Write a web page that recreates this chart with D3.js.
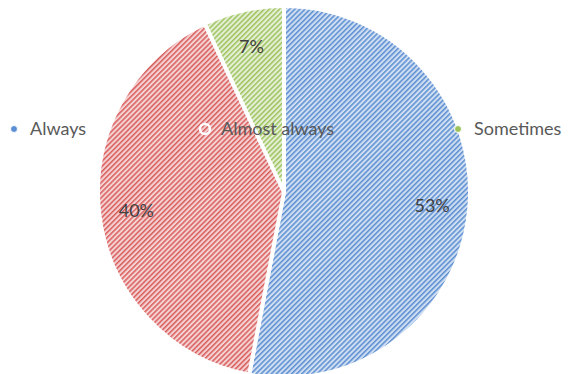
<!DOCTYPE html>
<html>
<head>
<meta charset="utf-8">
<script src="https://cdn.jsdelivr.net/npm/d3@7"></script>
<style>
  html, body { margin: 0; padding: 0; background: #fff; }
  svg { display: block; font-family: Lato, "Open Sans", sans-serif; }
</style>
</head>
<body>
<svg id="chart" width="575" height="374"></svg>
<script>
var categories = ["Always", "Almost always", "Sometimes"];
var values = [53, 40, 7];
var labels = ["53%", "40%", "7%"];
var fills = ["#cfdef1", "#f4d2d2", "#e5efd6"];
var strokes = ["#5b8ed2", "#d95c5c", "#9cc35c"];

var width = 575, height = 374,
    cx = 284, cy = 192, radius = 186;

var svg = d3.select("#chart");
var defs = svg.append("defs");

// diagonal hatch for every slice
var step = 3.6;
categories.forEach(function(c, i) {
    var p = defs.append("pattern")
        .attr("id", "hatch" + i)
        .attr("patternUnits", "userSpaceOnUse")
        .attr("width", step).attr("height", step)
        .attr("patternTransform", "rotate(45)");
    p.append("rect").attr("width", step).attr("height", step).attr("fill", fills[i]);
    p.append("rect").attr("width", 1.5).attr("height", step).attr("fill", strokes[i]);
});

var pie = d3.pie().sort(null).value(function(d) { return d; });
var arc = d3.arc().innerRadius(0).outerRadius(radius);
var labelArc = d3.arc().innerRadius(radius * 0.8).outerRadius(radius * 0.8);

var g = svg.append("g").attr("transform", "translate(" + cx + "," + cy + ")");
var arcs = pie(values);

g.selectAll("path.slice").data(arcs).enter().append("path")
    .attr("class", "slice")
    .attr("d", arc)
    .attr("fill", function(d, i) { return "url(#hatch" + i + ")"; })
    .attr("stroke", "#fff")
    .attr("stroke-width", 4)
    .attr("stroke-linejoin", "round");

g.selectAll("text.lbl").data(arcs).enter().append("text")
    .attr("class", "lbl")
    .attr("transform", function(d) { return "translate(" + labelArc.centroid(d) + ")"; })
    .attr("text-anchor", "middle")
    .attr("dy", "0.35em")
    .attr("font-size", 18)
    .attr("fill", "#404040")
    .text(function(d, i) { return labels[i]; });

// legend
var legendX = {"Always": 14, "Almost always": 205, "Sometimes": 458};
var lg = svg.append("g").selectAll("g").data(categories).enter().append("g")
    .attr("transform", function(d) { return "translate(" + legendX[d] + ",129)"; });

lg.append("circle")
    .attr("r", function(d, i) { return i == 1 ? 5 : 3.5; })
    .attr("fill", function(d, i) { return i == 1 ? "none" : strokes[i]; })
    .attr("stroke", "#fff")
    .attr("stroke-width", function(d, i) { return i == 1 ? 2.5 : 1; });

lg.append("text")
    .attr("x", 16)
    .attr("dy", "0.35em")
    .attr("font-size", 18)
    .attr("fill", "#595959")
    .text(function(d) { return d; });
</script>
</body>
</html>
